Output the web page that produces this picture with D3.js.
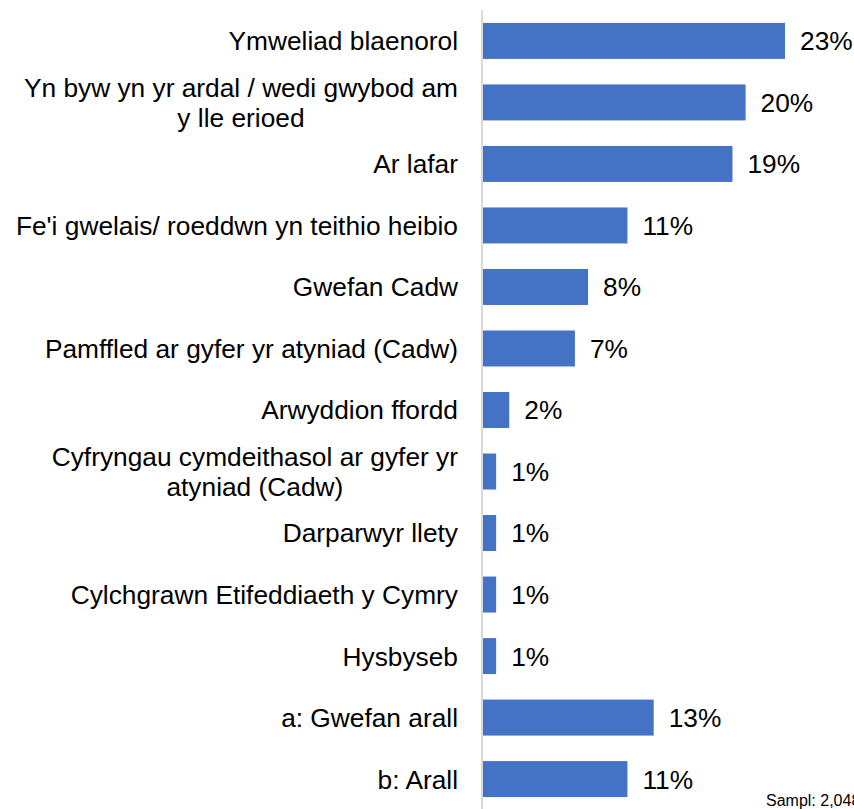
<!DOCTYPE html>
<html><head><meta charset="utf-8">
<script src="https://cdn.jsdelivr.net/npm/d3@7"></script>
<style>body{margin:0;background:#fff;}svg{display:block;}</style>
</head><body>
<svg id="c" width="854" height="809"></svg>
<script>
const categories = [
  ["Ymweliad blaenorol"],
  ["Yn byw yn yr ardal / wedi gwybod am", "y lle erioed"],
  ["Ar lafar"],
  ["Fe'i gwelais/ roeddwn yn teithio heibio"],
  ["Gwefan Cadw"],
  ["Pamffled ar gyfer yr atyniad (Cadw)"],
  ["Arwyddion ffordd"],
  ["Cyfryngau cymdeithasol ar gyfer yr", "atyniad (Cadw)"],
  ["Darparwyr llety"],
  ["Cylchgrawn Etifeddiaeth y Cymry"],
  ["Hysbyseb"],
  ["a: Gwefan arall"],
  ["b: Arall"]
];
const values = [23, 20, 19, 11, 8, 7, 2, 1, 1, 1, 1, 13, 11];
const valueLabels = ["23%","20%","19%","11%","8%","7%","2%","1%","1%","1%","1%","13%","11%"];
const sampleNote = "Sampl: 2,048";

const svg = d3.select("#c");
const font = "'Liberation Sans', Arial, sans-serif";
const fs = 26.3;
const x0 = 483;
const x = d3.scaleLinear().domain([0, 23]).range([x0, 785]);
const y = d3.scaleBand().domain(d3.range(values.length)).range([10, 810]).paddingInner(0.415).paddingOuter(0.21);

svg.selectAll("rect.bar").data(values).join("rect")
  .attr("class","bar")
  .attr("x", x0)
  .attr("y", (d,i)=>y(i))
  .attr("width", d=>x(d)-x0)
  .attr("height", y.bandwidth())
  .attr("fill", "#4472c4");

svg.append("line").attr("x1",482).attr("x2",482).attr("y1",10).attr("y2",809)
  .attr("stroke","#d9d9d9").attr("stroke-width",2);

svg.selectAll("text.val").data(values).join("text")
  .attr("class","val")
  .attr("x", d=>x(d)+15)
  .attr("y", (d,i)=>y(i)+y.bandwidth()/2)
  .attr("dy","0.36em")
  .attr("font-family", font).attr("font-size", fs).attr("fill","#000")
  .text((d,i)=>valueLabels[i]);

categories.forEach((lines, i) => {
  const cy = y(i) + y.bandwidth()/2;
  if (lines.length === 1) {
    svg.append("text").attr("x", 458).attr("y", cy).attr("dy","0.36em")
      .attr("text-anchor","end").attr("font-family", font).attr("font-size",fs).attr("fill","#000")
      .text(lines[0]);
  } else {
    const t1 = svg.append("text").attr("x", 458).attr("y", cy-15).attr("dy","0.36em")
      .attr("text-anchor","end").attr("font-family", font).attr("font-size",fs).attr("fill","#000")
      .text(lines[0]);
    const w = t1.node().getComputedTextLength();
    const cx = 458 - w/2;
    svg.append("text").attr("x", cx).attr("y", cy+15).attr("dy","0.36em")
      .attr("text-anchor","middle").attr("font-family", font).attr("font-size",fs).attr("fill","#000")
      .text(lines[1]);
  }
});

svg.append("text").attr("x", 766).attr("y", 806)
  .attr("font-family", font).attr("font-size", 16).attr("fill","#000")
  .text(sampleNote);
</script>
</body></html>
